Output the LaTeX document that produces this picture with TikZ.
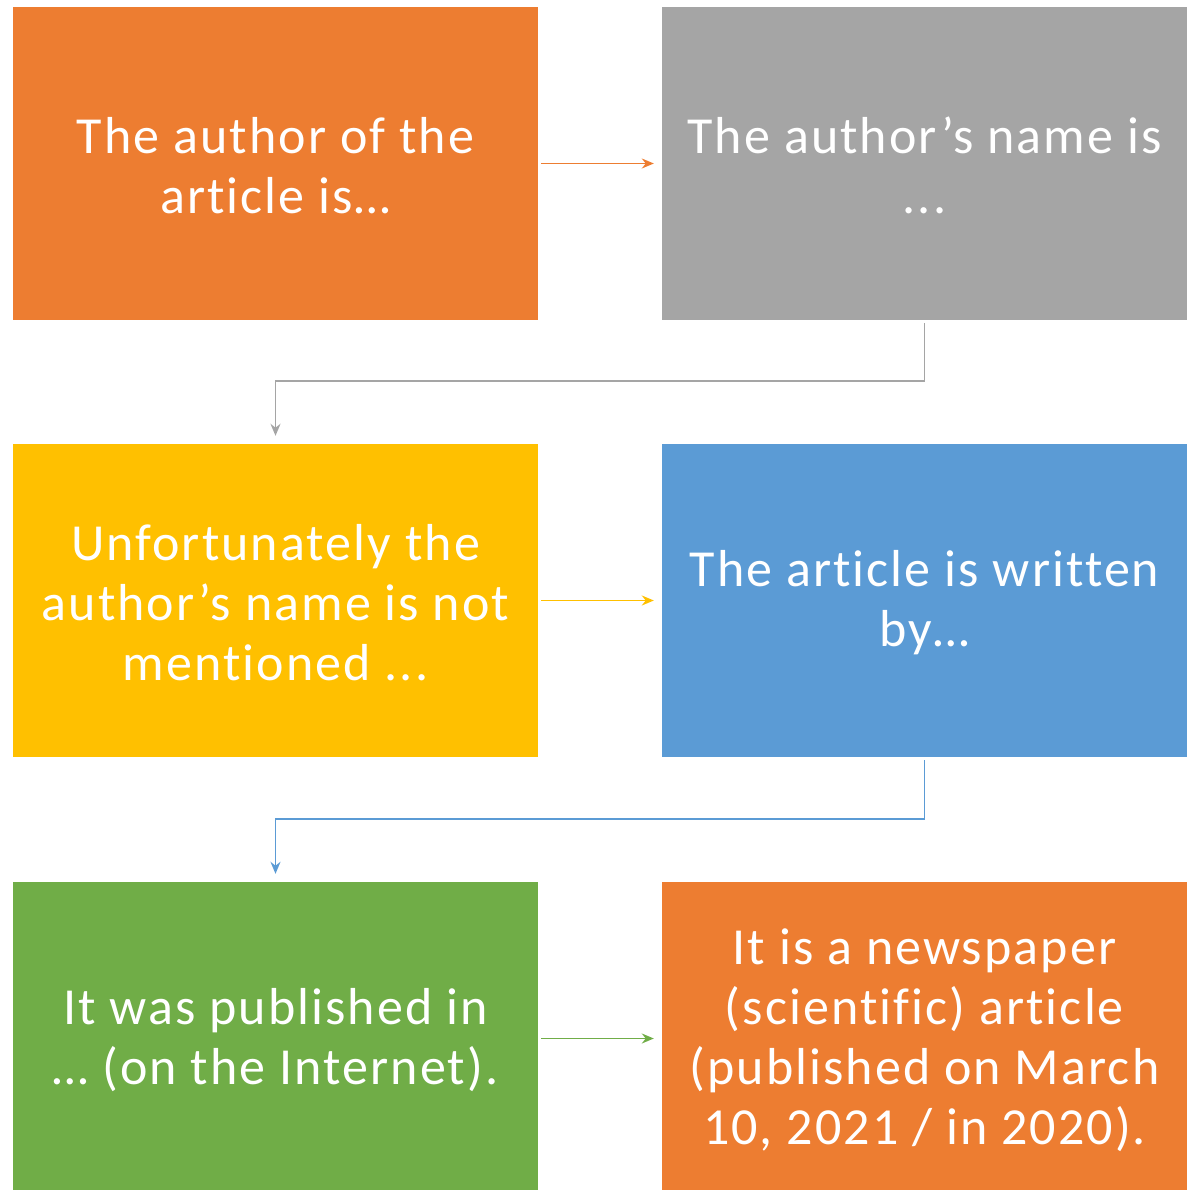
\documentclass[tikz,border=0pt]{standalone}
\usepackage{fontspec}
\setmainfont[LetterSpace=4,Ligatures=NoCommon]{Carlito}
\usetikzlibrary{arrows.meta}
\definecolor{corange}{HTML}{ED7D31}
\definecolor{cgray}{HTML}{A5A5A5}
\definecolor{cyellow}{HTML}{FFC000}
\definecolor{cblue}{HTML}{5B9BD5}
\definecolor{cgreen}{HTML}{70AD47}
\tikzset{
  box/.style={rectangle, minimum width=525pt, minimum height=313pt, inner sep=0pt,
    text=white, align=center, font=\fontsize{52}{60}\selectfont},
  lbl/.style={text=white, align=center, font=\fontsize{52}{60}\selectfont, inner sep=0pt},
  conn/.style={line width=1.6pt, shorten <=3pt, shorten >=8pt,
    -{Stealth[length=12pt,width=10pt]}}
}
\begin{document}
\begin{tikzpicture}[x=1pt,y=-1pt]
\useasboundingbox (0,0) rectangle (1194,1190);
\node[box, fill=corange] (b1) at (275.5,163.5) {};
\node[box, fill=cgray] (b2) at (924.5,163.5) {};
\node[box, fill=cyellow] (b3) at (275.5,600.5) {};
\node[box, fill=cblue] (b4) at (924.5,600.5) {};
\node[box, fill=cgreen] (b5) at (275.5,1038.5) {};
\node[box, fill=corange] (b6) at (924.5,1038.5) {};
\node[lbl] (t1) at (275.5,165.5) {The author of the\\article is…};
\node[lbl] (t2) at (924.5,165.5) {The author’s name is\\...};
\node[lbl] (t3) at (275.5,602.5) {Unfortunately the\\author’s name is not\\mentioned ...};
\node[lbl] (t4) at (924.5,602.5) {The article is written\\by…};
\node[lbl] (t5) at (275.5,1040.5) {It was published in\\… (on the Internet).};
\node[lbl] (t6) at (924.5,1040.5) {It is a newspaper\\(scientific) article\\(published on March\\10, 2021 / in 2020).};
\draw[conn, corange] (b1.east) -- (b2.west);
\draw[conn, cgray] (b2.south) -- ++(0,61) -| (b3.north);
\draw[conn, cyellow] (b3.east) -- (b4.west);
\draw[conn, cblue] (b4.south) -- ++(0,62) -| (b5.north);
\draw[conn, cgreen] (b5.east) -- (b6.west);
\end{tikzpicture}
\end{document}
